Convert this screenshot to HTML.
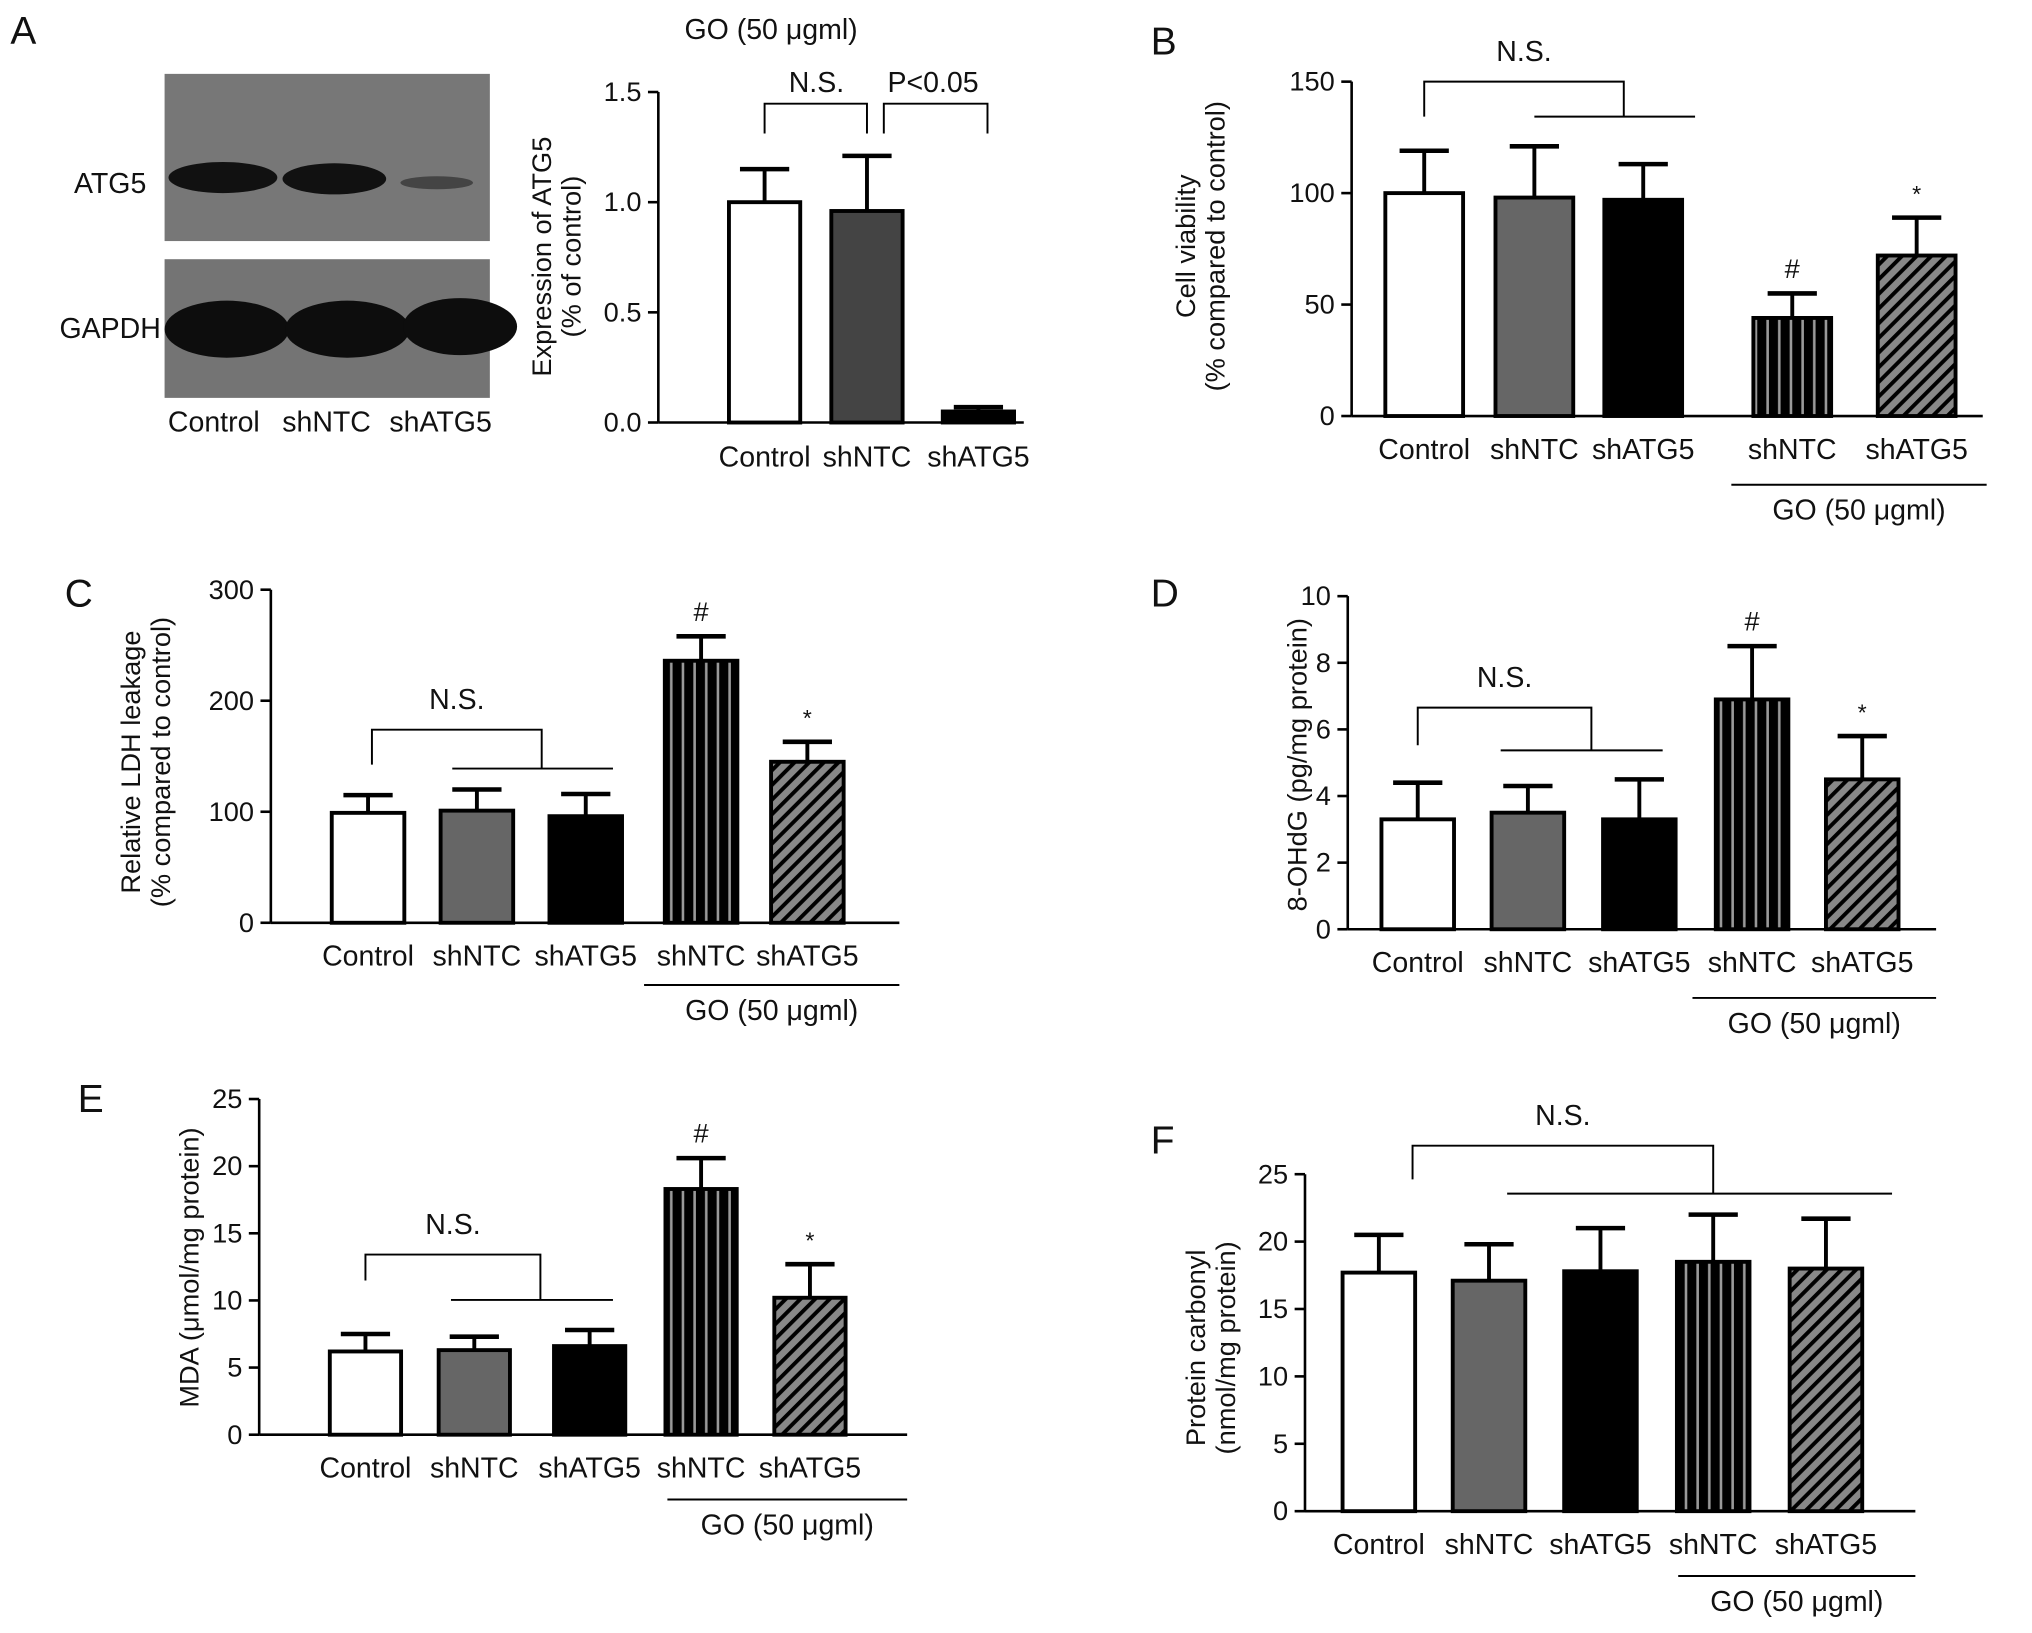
<!DOCTYPE html>
<html><head><meta charset="utf-8">
<style>html,body{margin:0;padding:0;background:#fff;}svg{display:block;}text{font-family:"Liberation Sans",Arial,sans-serif;fill:#111;}</style>
</head><body>
<svg id="fig" xmlns="http://www.w3.org/2000/svg" width="2032" height="1633" viewBox="0 0 1568 1260" preserveAspectRatio="none">
<defs>
<pattern id="vstripe" width="9" height="10" patternUnits="userSpaceOnUse"><rect width="9" height="10" fill="#000"/><rect x="4" width="2" height="10" fill="#999"/></pattern>
<pattern id="dstripe" width="8" height="8" patternUnits="userSpaceOnUse" patternTransform="rotate(45)"><rect width="8" height="8" fill="#888"/><rect width="3" height="8" fill="#000"/></pattern>
</defs>
<g>
<text x="8" y="34" font-size="30">A</text>
<rect x="127" y="57" width="251" height="129" fill="#777"/>
<rect x="127" y="200" width="251" height="107" fill="#747474"/>
<ellipse cx="172" cy="137" rx="42" ry="12" fill="#111"/>
<ellipse cx="258" cy="138" rx="40" ry="12" fill="#111"/>
<ellipse cx="337" cy="141" rx="28" ry="5" fill="#444"/>
<ellipse cx="175" cy="254" rx="48" ry="22" fill="#0d0d0d"/>
<ellipse cx="268" cy="254" rx="48" ry="22" fill="#0d0d0d"/>
<ellipse cx="355" cy="252" rx="44" ry="22" fill="#0d0d0d"/>
<text x="85" y="149" font-size="22" text-anchor="middle">ATG5</text>
<text x="85" y="261" font-size="22" text-anchor="middle">GAPDH</text>
<text x="165" y="333" font-size="22" text-anchor="middle">Control</text>
<text x="252" y="333" font-size="22" text-anchor="middle">shNTC</text>
<text x="340" y="333" font-size="22" text-anchor="middle">shATG5</text>
</g>
</svg>
<script>
const cats6 = ["Control","shNTC","shATG5","shNTC","shATG5"];
const aCats = ["Control","shNTC","shATG5"];
const aVals = [1.0,0.96,0.05];
const aErr = [1.15,1.21,0.07];
const aTicks = [0,0.5,1.0,1.5];
const bVals = [100,98,97,44,72];
const bErr = [119,121,113,55,89];
const bTicks = [0,50,100,150];
const cVals = [99,101,96,236,145];
const cErr = [115,120,116,258,163];
const cTicks = [0,100,200,300];
const dVals = [3.3,3.5,3.3,6.9,4.5];
const dErr = [4.4,4.3,4.5,8.5,5.8];
const dTicks = [0,2,4,6,8,10];
const eVals = [6.2,6.3,6.6,18.3,10.2];
const eErr = [7.5,7.3,7.8,20.6,12.7];
const eTicks = [0,5,10,15,20,25];
const fVals = [17.7,17.1,17.8,18.5,18.0];
const fErr = [20.5,19.8,21.0,22.0,21.7];
const fTicks = [0,5,10,15,20,25];
const fills = ["#fff","#666","#000","url(#vstripe)","url(#dstripe)"];
const fillsA = ["#fff","#444","#000"];

const NS="http://www.w3.org/2000/svg";
const svg=document.getElementById('fig');
function mk(tag,attrs,parent,txt){const e=document.createElementNS(NS,tag);for(const k in attrs)e.setAttribute(k,attrs[k]);if(txt!==undefined)e.textContent=txt;parent.appendChild(e);return e;}
function line(g,x1,y1,x2,y2,w){return mk('line',{x1,y1,x2,y2,stroke:'#000','stroke-width':w||2},g);}

function chart(p){
  const g=mk('g',{},svg);
  
  
  const tmax=p.ticks[p.ticks.length-1];
  const y=v=>p.y0-(v/tmax)*(p.y0-p.yTop);
  mk('text',{x:p.lx,y:p.ly,'font-size':30},g,p.letter);
  line(g,p.ax,p.yTop,p.ax,p.y0);
  line(g,p.ax,p.y0,p.axEnd,p.y0);
  p.ticks.forEach((t,i)=>{
    line(g,p.ax-8,y(t),p.ax,y(t));
    const tl=mk('text',{x:p.ax-13,y:y(t)+7,'font-size':21,'text-anchor':'end'},g,p.tickLabels[i]);
    
    
  });
  const yl=mk('g',{transform:`translate(${p.ylx},${p.yly}) rotate(-90)`},g);
  
  
  p.ytitle.forEach((s,i)=>mk('text',{x:0,y:i*23,'font-size':21,'text-anchor':'middle'},yl,s));
  p.vals.forEach((v,i)=>{
    const cx=p.centers[i];
    const et=y(p.err[i]);
    line(g,cx,et,cx,y(v),3);
    line(g,cx-19,et,cx+19,et,3.5);
    const r=mk('rect',{x:cx-p.bw/2,y:y(v),width:p.bw,height:p.y0-y(v),fill:p.fills[i],stroke:'#000','stroke-width':3},g);
    
    
    const tl=mk('text',{x:cx,y:p.catY,'font-size':22,'text-anchor':'middle'},g,p.cats[i]);
    
    
  });
  if(p.go){
    line(g,p.go[0],p.go[2],p.go[1],p.go[2],1.5);
    mk('text',{x:(p.go[0]+p.go[1])/2,y:p.go[2]+27,'font-size':22,'text-anchor':'middle'},g,'GO (50 \u03bcgml)');
  }
  if(p.ns){
    const [x1,x2,top,leg,lx1,lx2,ly]=p.ns;
    mk('polyline',{points:`${x1},${leg} ${x1},${top} ${x2},${top} ${x2},${ly}`,fill:'none',stroke:'#000','stroke-width':1.5},g);
    line(g,lx1,ly,lx2,ly,1.5);
    mk('text',{x:(x1+x2)/2,y:top-16,'font-size':22,'text-anchor':'middle'},g,'N.S.');
  }
  if(p.marks){
    p.marks.forEach(m=>mk('text',{x:p.centers[m[0]],y:y(p.err[m[0]])-12,'font-size':m[1]=='#'?21:18,'text-anchor':'middle'},g,m[1]));
  }
  return {g,y};
}

const A=chart({name:'panel-a-chart',letter:'',lx:0,ly:0,ax:508,axEnd:790,y0:326,yTop:71,ticks:aTicks,tickLabels:['0.0','0.5','1.0','1.5'],
  ylx:425,yly:198,ytitle:['Expression of ATG5','(% of control)'],vals:aVals,err:aErr,centers:[590,669,755],bw:55,fills:fillsA,cats:aCats,catY:360});
mk('text',{x:595,y:30,'font-size':22,'text-anchor':'middle'},A.g,'GO (50 \u03bcgml)');
mk('polyline',{points:'590,103 590,80 669,80 669,103',fill:'none',stroke:'#000','stroke-width':1.5},A.g);
mk('polyline',{points:'682,103 682,80 762,80 762,103',fill:'none',stroke:'#000','stroke-width':1.5},A.g);
mk('text',{x:630,y:71,'font-size':22,'text-anchor':'middle'},A.g,'N.S.');
mk('text',{x:720,y:71,'font-size':22,'text-anchor':'middle'},A.g,'P<0.05');

chart({name:'panel-b-chart',letter:'B',lx:888,ly:42,ax:1043,axEnd:1530,y0:321,yTop:63,ticks:bTicks,tickLabels:bTicks.map(String),
  ylx:922,yly:190,ytitle:['Cell viability','(% compared to control)'],vals:bVals,err:bErr,centers:[1099,1184,1268,1383,1479],bw:60,fills,cats:cats6,catY:354,
  go:[1336,1533,374],ns:[1099,1253,63,90,1184,1308,90],marks:[[3,'#'],[4,'*']]});

chart({name:'panel-c-chart',letter:'C',lx:50,ly:468,ax:209,axEnd:694,y0:712,yTop:455,ticks:cTicks,tickLabels:cTicks.map(String),
  ylx:108,yly:588,ytitle:['Relative LDH leakage','(% compared to control)'],vals:cVals,err:cErr,centers:[284,368,452,541,623],bw:56,fills,cats:cats6,catY:745,
  go:[497,694,760],ns:[287,418,563,590,349,473,593],marks:[[3,'#'],[4,'*']]});

chart({name:'panel-d-chart',letter:'D',lx:888,ly:468,ax:1040,axEnd:1494,y0:717,yTop:460,ticks:dTicks,tickLabels:dTicks.map(String),
  ylx:1008,yly:590,ytitle:['8-OHdG (pg/mg protein)'],vals:dVals,err:dErr,centers:[1094,1179,1265,1352,1437],bw:56,fills,cats:cats6,catY:750,
  go:[1306,1494,770],ns:[1094,1228,546,575,1158,1283,579],marks:[[3,'#'],[4,'*']]});

chart({name:'panel-e-chart',letter:'E',lx:60,ly:858,ax:200,axEnd:700,y0:1107,yTop:848,ticks:eTicks,tickLabels:eTicks.map(String),
  ylx:153,yly:978,ytitle:['MDA (\u03bcmol/mg protein)'],vals:eVals,err:eErr,centers:[282,366,455,541,625],bw:55,fills,cats:cats6,catY:1140,
  go:[515,700,1157],ns:[282,417,968,988,348,473,1003],marks:[[3,'#'],[4,'*']]});

chart({name:'panel-f-chart',letter:'F',lx:888,ly:890,ax:1007,axEnd:1478,y0:1166,yTop:906,ticks:fTicks,tickLabels:fTicks.map(String),
  ylx:930,yly:1040,ytitle:['Protein carbonyl','(nmol/mg protein)'],vals:fVals,err:fErr,centers:[1064,1149,1235,1322,1409],bw:56,fills,cats:cats6,catY:1199,
  go:[1295,1478,1216],ns:[1090,1322,884,910,1163,1460,921]});
</script>
</body></html>
